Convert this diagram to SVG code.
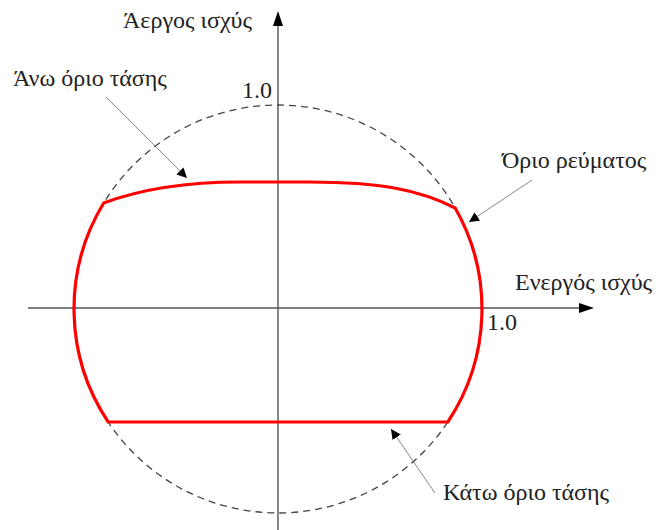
<svg xmlns="http://www.w3.org/2000/svg" width="668" height="530" viewBox="0 0 668 530">
<defs>
<style>
.axis{stroke:#555;stroke-width:1.4;fill:none}
.lead{stroke:#888;stroke-width:1;fill:none}
.circ{stroke:#444;stroke-width:1.3;fill:none;stroke-dasharray:7 5}
.lim{stroke:#ff0000;stroke-width:3.2;fill:none;stroke-linejoin:miter}
.t{font-family:"Liberation Serif","Times New Roman",serif;font-size:24px;fill:#222}
</style>
<marker id="ah" viewBox="0 0 10 10" refX="10" refY="5" markerWidth="10" markerHeight="10" markerUnits="userSpaceOnUse" orient="auto">
<path d="M0,0 L10,5 L0,10 z" fill="#000"/>
</marker>
</defs>
<rect width="668" height="530" fill="#fff"/>
<g id="connectors">
<line class="axis" x1="278" y1="530" x2="278" y2="24"/>
<path d="M278,11 L283,26 L273,26 z" fill="#000"/>
<line class="axis" x1="28" y1="308" x2="581" y2="308"/>
<path d="M594,308 L579,303 L579,313 z" fill="#000"/>
<line class="lead" x1="106" y1="97" x2="187" y2="178" marker-end="url(#ah)"/>
<line class="lead" x1="532" y1="180" x2="469" y2="222" marker-end="url(#ah)"/>
<line class="lead" x1="435" y1="493" x2="391" y2="429" marker-end="url(#ah)"/>
</g>
<g id="circle">
<circle class="circ" cx="278" cy="309" r="204"/>
</g>
<g id="limit">
<path class="lim" d="M103.7,203 Q160,182 240,182 L310,182 C380,182 420,190 455.2,208 A204,204 0 0 1 447.8,422 L108.2,422 A204,204 0 0 1 103.7,203 z"/>
</g>
<g id="labels">
<text class="t" x="123" y="28">Άεργος ισχύς</text>
<text class="t" x="13" y="86">Άνω όριο τάσης</text>
<text class="t" x="242" y="98">1.0</text>
<text class="t" x="502" y="168">Όριο ρεύματος</text>
<text class="t" x="515" y="290">Ενεργός ισχύς</text>
<text class="t" x="487" y="330">1.0</text>
<text class="t" x="443" y="500">Κάτω όριο τάσης</text>
</g>
</svg>
